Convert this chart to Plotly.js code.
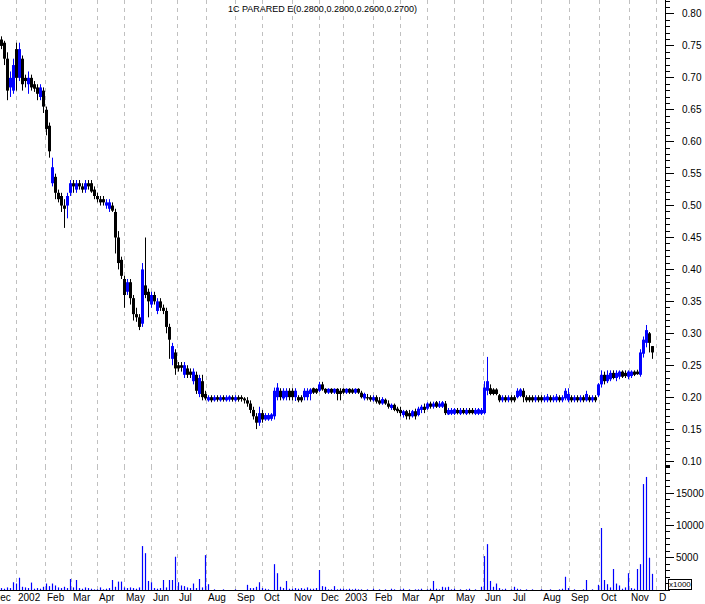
<!DOCTYPE html>
<html><head><meta charset="utf-8">
<script src="https://cdn.plot.ly/plotly-3.0.1.min.js"></script>
<style>html,body{margin:0;padding:0;background:#fff}#chart{width:705px;height:604px}</style>
</head><body><div id="chart"></div>
<script>
const openP = [
.76,.755,.73,.685,.68,.745,.70,.73,.70,.69,
.70,.69,.685,.67,.68,.65,.625,.535,.545,.52,
.515,.50,.50,.52,.535,.525,.535,.53,.525,.535,
.535,.525,.515,.51,.51,.50,.495,.50,.49,.45,
.415,.385,.365,.38,.355,.33,.325,.315,.375,.365,
.345,.36,.335,.35,.34,.335,.31,.26,.27,.25,
.25,.235,.245,.24,.225,.235,.205,.225,.205,.195,
.20,.195,.20,.195,.20,.195,.196,.20,.195,.20,
.20,.198,.195,.19,.18,.17,.16,.175,.165,.165,
.166,.17,.20,.21,.198,.20,.21,.21,.20,.20,
.20,.20,.20,.205,.214,.213,.21,.22,.213,.207,
.213,.207,.213,.21,.213,.207,.213,.212,.207,.213,
.207,.198,.20,.20,.195,.20,.195,.19,.196,.19,
.183,.188,.182,.18,.172,.178,.175,.17,.178,.172,
.18,.185,.182,.19,.185,.192,.185,.185,.19,.173,
.174,.174,.18,.174,.18,.174,.18,.18,.174,.174,
.174,.175,.21,.214,.212,.212,.203,.195,.20,.195,
.20,.20,.20,.202,.21,.20,.20,.20,.195,.20,
.20,.195,.195,.20,.195,.195,.20,.195,.198,.195,
.20,.195,.20,.195,.20,.195,.20,.195,.20,.203,
.22,.235,.225,.228,.238,.23,.232,.24,.238,.232,
.233,.24,.24,.235,.268,.285,.30,.28];
const highP = [
.765,.758,.74,.71,.73,.755,.755,.735,.705,.71,
.705,.695,.69,.69,.685,.655,.63,.575,.55,.525,
.52,.51,.52,.54,.54,.54,.54,.535,.54,.54,
.54,.53,.52,.515,.515,.51,.51,.505,.495,.46,
.42,.39,.385,.385,.36,.34,.33,.41,.45,.37,
.365,.365,.355,.355,.345,.34,.315,.285,.275,.255,
.255,.255,.25,.245,.245,.24,.235,.235,.21,.203,
.203,.203,.203,.203,.203,.203,.203,.203,.203,.203,
.203,.20,.20,.195,.185,.175,.185,.18,.175,.175,
.175,.215,.222,.214,.214,.214,.214,.214,.214,.203,
.203,.214,.214,.214,.215,.214,.224,.224,.214,.214,
.214,.214,.214,.214,.214,.214,.214,.214,.214,.214,
.21,.207,.205,.203,.203,.203,.20,.20,.198,.195,
.19,.19,.185,.185,.18,.18,.18,.18,.182,.185,
.188,.19,.192,.193,.193,.194,.194,.194,.194,.183,
.183,.183,.183,.183,.183,.183,.183,.183,.183,.183,
.183,.225,.263,.22,.214,.214,.205,.203,.203,.203,
.203,.203,.214,.214,.214,.203,.203,.203,.203,.203,
.203,.203,.205,.203,.203,.205,.203,.203,.214,.214,
.203,.203,.203,.203,.203,.21,.203,.203,.203,.222,
.242,.24,.242,.242,.242,.242,.242,.242,.242,.242,
.242,.242,.243,.275,.295,.313,.302,.28];
const lowP = [
.745,.72,.665,.67,.675,.68,.695,.68,.685,.675,
.68,.678,.665,.665,.645,.61,.575,.53,.51,.505,
.49,.465,.48,.515,.52,.52,.525,.52,.52,.525,
.52,.51,.505,.50,.50,.495,.49,.49,.425,.40,
.385,.34,.36,.345,.32,.318,.305,.31,.355,.325,
.34,.345,.33,.335,.33,.30,.26,.25,.235,.24,
.24,.23,.23,.23,.22,.205,.20,.195,.195,.193,
.192,.193,.193,.193,.193,.193,.193,.193,.193,.193,
.193,.19,.185,.175,.165,.15,.155,.16,.163,.163,
.163,.165,.195,.195,.195,.195,.195,.195,.194,.192,
.192,.195,.195,.195,.205,.205,.208,.21,.205,.205,
.205,.205,.195,.195,.205,.205,.205,.205,.205,.205,
.198,.195,.195,.193,.193,.19,.188,.188,.188,.182,
.18,.178,.175,.17,.168,.165,.165,.168,.165,.17,
.175,.175,.18,.182,.182,.183,.183,.183,.172,.172,
.172,.172,.173,.172,.173,.172,.173,.173,.172,.172,
.172,.173,.203,.203,.203,.203,.192,.192,.192,.192,
.192,.192,.198,.20,.192,.192,.192,.192,.192,.192,
.192,.192,.192,.192,.192,.192,.192,.192,.195,.192,
.192,.192,.192,.192,.192,.193,.192,.192,.192,.20,
.215,.22,.222,.225,.228,.225,.228,.23,.23,.228,
.23,.233,.235,.232,.262,.278,.27,.26];
const closeP = [
.75,.73,.68,.70,.72,.70,.745,.69,.695,.70,
.685,.683,.675,.685,.655,.62,.585,.56,.52,.51,
.50,.495,.515,.535,.53,.535,.53,.525,.535,.53,
.522,.515,.51,.505,.505,.505,.505,.492,.45,.41,
.39,.36,.38,.355,.33,.325,.31,.40,.36,.35,
.36,.35,.35,.34,.335,.31,.29,.28,.245,.245,
.246,.25,.235,.235,.24,.21,.23,.20,.198,.20,
.195,.20,.196,.20,.196,.20,.201,.196,.20,.196,
.197,.195,.19,.18,.17,.16,.175,.165,.172,.172,
.173,.21,.215,.20,.21,.21,.20,.20,.21,.195,
.195,.21,.21,.212,.207,.207,.22,.212,.207,.213,
.207,.213,.205,.205,.207,.213,.207,.207,.213,.207,
.20,.205,.198,.196,.20,.193,.19,.197,.19,.185,
.188,.18,.178,.175,.178,.17,.17,.178,.17,.182,
.185,.18,.19,.185,.19,.185,.19,.192,.175,.18,
.18,.181,.175,.18,.175,.18,.175,.175,.18,.181,
.18,.215,.225,.205,.205,.205,.195,.20,.195,.20,
.195,.195,.21,.212,.20,.195,.195,.195,.20,.195,
.195,.20,.201,.195,.20,.201,.195,.20,.21,.205,
.195,.20,.195,.20,.195,.205,.195,.20,.195,.22,
.235,.225,.235,.238,.23,.238,.24,.232,.233,.24,
.24,.235,.236,.27,.29,.305,.285,.27];
const volume = [
300,200,400,300,1200,1000,1900,500,400,300,
1150,200,300,200,500,1000,600,1000,700,400,
300,500,300,1700,400,1550,300,200,400,300,
200,100,100,400,100,200,300,1550,500,1300,
1300,400,300,400,300,200,400,6800,5700,1400,
1200,300,200,300,1550,400,1550,1550,5150,1200,
700,600,400,300,1000,300,1700,400,5400,900,
0,100,0,0,100,0,0,0,100,0,
0,0,800,300,300,500,1200,300,200,100,
0,4000,2600,500,300,1400,200,200,300,200,
300,200,400,200,200,300,3100,600,500,100,
100,600,100,200,200,100,200,100,200,100,
100,0,100,0,200,0,100,0,100,0,
200,100,0,100,200,0,100,0,100,100,
200,0,100,200,1400,200,100,500,400,500,
100,200,0,100,0,100,200,0,100,0,
500,5250,7100,1400,500,1000,300,100,200,0,
100,500,200,100,0,100,0,100,0,0,
100,0,0,100,0,0,100,200,2050,300,
0,100,0,0,100,1550,0,100,0,800,
9600,1550,900,400,3250,1000,700,200,400,2600,
300,200,3250,4000,16400,17500,5000,2500];
const monthPos = [-3.4,4.9,14.6,23.3,31.9,40.9,49.9,58.6,68.3,77.9,86.9,96.9,105.9,113.9,123.9,132.9,141.9,150.9,160.6,169.9,179.9,189.3,199.3,209.3,218.4];
const monthLabels = ['Dec','2002','Feb','Mar','Apr','May','Jun','Jul','Aug','Sep','Oct','Nov','Dec','2003','Feb','Mar','Apr','May','Jun','Jul','Aug','Sep','Oct','Nov','D'];
const titleText = '1C PARARED E(0.2800,0.2800,0.2600,0.2700)';

const BLUE = '#0000ff', BLACK = '#000000';
const FONT = 'Liberation Sans, Arial, sans-serif';
const X_RANGE = [-0.5, 221.1667];

function build(up) {
  const bx = [], bb = [], bh = [], wx = [], wy = [];
  for (let i = 0; i < closeP.length; i++) {
    const isUp = closeP[i] > openP[i];
    if (isUp !== up) continue;
    bx.push(i);
    bb.push(Math.min(openP[i], closeP[i]));
    bh.push(Math.abs(closeP[i] - openP[i]));
    wx.push(i, i, null);
    wy.push(lowP[i], highP[i], null);
  }
  const col = up ? BLUE : BLACK;
  return [
    {type:'scatter', mode:'lines', x:wx, y:wy, line:{color:col, width:1}, hoverinfo:'skip', xaxis:'x', yaxis:'y', connectgaps:false},
    {type:'bar', x:bx, y:bh, base:bb, width:1.0, marker:{color:col, line:{width:0}}, hoverinfo:'skip', xaxis:'x', yaxis:'y'}
  ];
}
const idx = closeP.map((_, i) => i);
const traces = [...build(true), ...build(false),
  {type:'bar', x:idx, y:volume, width:0.4, marker:{color:BLUE, line:{width:0}}, xaxis:'x', yaxis:'y2', hoverinfo:'skip'}];

const splitY = 1 - 466/590;
// month labels: placed in paper coordinates so the clipped "Dec" at the far left still renders
const toPaper = v => (v - X_RANGE[0]) / (X_RANGE[1] - X_RANGE[0]);
const annotations = monthLabels.map((t, k) => ({
  text:t, x:toPaper(monthPos[k]), xref:'paper', y:0, yref:'paper', xanchor:'left', yanchor:'top',
  showarrow:false, font:{family:FONT, size:10, color:'#000'}, xshift:1, yshift:-1, borderpad:0
}));
annotations.push({text:titleText, x:322/665, xref:'paper', y:(590-9)/590, yref:'paper', xanchor:'center', yanchor:'middle', showarrow:false, font:{family:FONT, size:9, color:'#000'}});
annotations.push({text:'x1000', x:1.005, xref:'paper', y:0, yref:'paper', xanchor:'left', yanchor:'bottom', showarrow:false, font:{family:FONT, size:8, color:'#000'}, bordercolor:'#000', borderwidth:1, borderpad:0, bgcolor:'#fff'});

const layout = {
  width:705, height:604,
  margin:{l:0, r:40, t:0, b:14, pad:0},
  paper_bgcolor:'#fff', plot_bgcolor:'#fff',
  showlegend:false, barmode:'overlay', hovermode:false,
  xaxis:{range:X_RANGE, anchor:'y2', tickmode:'array', tickvals:monthPos, showticklabels:false, ticks:'',
    showgrid:true, gridcolor:'#c0c0c0', gridwidth:1, griddash:'4px,4px', showline:true, linecolor:'#000', linewidth:1, zeroline:false, fixedrange:true},
  yaxis:{domain:[splitY, 1], range:[0.0922, 0.8219], side:'right', anchor:'x', tick0:0.1, dtick:0.05, tickformat:'.2f',
    ticks:'outside', ticklen:8, tickcolor:'#000', tickwidth:1, showline:true, linecolor:'#000', showgrid:false, zeroline:false,
    minor:{dtick:0.01, tick0:0.1, ticks:'outside', ticklen:4, tickcolor:'#000', showgrid:false},
    tickfont:{family:FONT, size:10, color:'#000'}, ticklabelstandoff:6},
  yaxis2:{domain:[0, splitY], range:[0, 19195], side:'right', anchor:'x', tickmode:'array', tickvals:[5000,10000,15000], tickformat:'d',
    ticks:'outside', ticklen:8, tickcolor:'#000', tickwidth:1, showline:true, linecolor:'#000', showgrid:false, zeroline:false,
    minor:{tickmode:'linear', tick0:0, dtick:1000, ticks:'outside', ticklen:4, tickcolor:'#000', showgrid:false},
    tickfont:{family:FONT, size:10, color:'#000'}, ticklabelstandoff:0},
  annotations:annotations,
  shapes:[{type:'line', xref:'paper', yref:'paper', x0:1, x1:1+5/665, y0:splitY, y1:splitY, line:{color:'#000', width:2}}]
};
Plotly.newPlot('chart', traces, layout, {staticPlot:true, displayModeBar:false});
</script></body></html>
